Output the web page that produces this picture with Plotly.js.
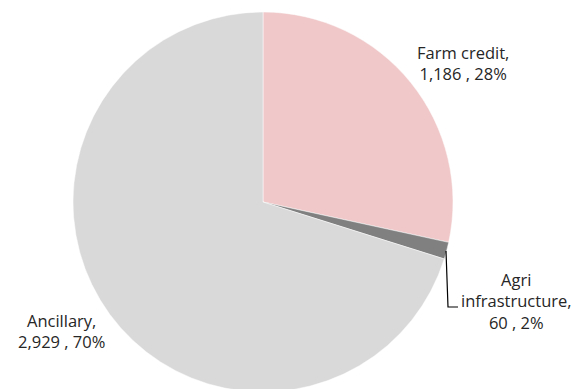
<!DOCTYPE html>
<html>
<head>
<meta charset="utf-8">
<script src="https://cdn.plot.ly/plotly-3.0.1.min.js"></script>
<style>
html,body{margin:0;padding:0;overflow:hidden;background:#fff;}
#chart{width:572px;height:400px;}
</style>
</head>
<body>
<div id="chart"></div>
<script>
const categories = ["Farm credit", "Agri infrastructure", "Ancillary"];
const values = [1186, 60, 2929];
const pctLabels = ["28%", "2%", "70%"];
const labelText = ["Farm credit,<br>1,186 , 28%", "Agri<br>infrastructure,<br>60 , 2%", "Ancillary,<br>2,929 , 70%"];
const colors = ["#F0C8C9", "#808080", "#D9D9D9"];

const W = 572, H = 400;
const cx = 263, cy = 202, r = 190;

const trace = {
  type: "pie",
  labels: categories,
  values: values,
  sort: false,
  direction: "clockwise",
  rotation: 0,
  textinfo: "none",
  hoverinfo: "label+value",
  marker: {colors: colors, line: {color: "#ffffff", width: 0.5}},
  domain: {
    x: [(cx - r) / W, (cx + r) / W],
    y: [(H - cy - r) / H, (H - cy + r) / H]
  },
  showlegend: false
};

const font = {family: "Open Sans, Noto Sans, sans-serif", size: 16.5, color: "#262626"};
const annPos = [[463, 63], [516, 301], [61, 331]];
const annotations = labelText.map((t, i) => ({
  text: t,
  x: annPos[i][0] / W,
  y: 1 - annPos[i][1] / H,
  xref: "paper", yref: "paper",
  showarrow: false,
  xanchor: "center", yanchor: "middle",
  align: "center",
  font: font
}));

const layout = {
  width: W, height: H,
  margin: {l: 0, r: 0, t: 0, b: 0},
  paper_bgcolor: "#ffffff",
  annotations: annotations,
  shapes: [{
    type: "path",
    xref: "paper", yref: "paper",
    path: "M " + (446 / W) + "," + (1 - 251 / H) + " L " + (448 / W) + "," + (1 - 307 / H) + " L " + (458 / W) + "," + (1 - 307 / H),
    line: {color: "#000000", width: 1.2}
  }]
};

Plotly.newPlot("chart", [trace], layout, {staticPlot: true, displayModeBar: false});
</script>
</body>
</html>
